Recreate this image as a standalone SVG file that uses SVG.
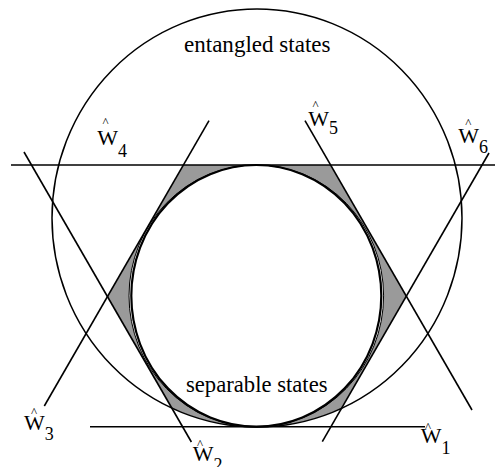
<svg xmlns="http://www.w3.org/2000/svg" width="495" height="467" viewBox="0 0 495 467">
<style>
.ln{stroke:#000;stroke-width:1.6;fill:none;stroke-linecap:butt}
.outer{stroke:#000;stroke-width:1.5;fill:none}
.inner{stroke:#000;stroke-width:2.2;fill:none}
.shade{fill:#9a9a9a;fill-rule:evenodd;stroke:#000;stroke-width:1}
</style>
<defs>
<clipPath id="hexClip"><polygon points="183.4,165 330.6,165 406.3,296.2 331,426.7 182.6,426.7 107.5,296.6"/></clipPath>
<clipPath id="outerClip"><ellipse cx="257" cy="218" rx="205" ry="209"/></clipPath>
</defs>
<rect width="495" height="467" fill="#fff"/>
<g id="shading" clip-path="url(#hexClip)">
<g clip-path="url(#outerClip)">
<path class="shade" d="M0,0 H495 V467 H0 Z M129,295.85 a127.3,130.85 0 1 0 254.6,0 a127.3,130.85 0 1 0 -254.6,0 Z"/>
</g>
</g>
<g id="entangled-states">
<ellipse class="outer" cx="257" cy="218" rx="205" ry="209"/>
<text style="font-family:'Liberation Serif',serif" font-size="24" x="184" y="52.3" textLength="146.5" lengthAdjust="spacingAndGlyphs">entangled states</text>
</g>
<g id="separable-states">
<ellipse class="inner" cx="256.3" cy="295.85" rx="125" ry="130.85"/>
<text style="font-family:'Liberation Serif',serif" font-size="24" x="186" y="391.7" textLength="141.5" lengthAdjust="spacingAndGlyphs">separable states</text>
</g>
<g id="connectors">
<line class="ln" x1="90" y1="426.7" x2="425" y2="426.7"/>
<line class="ln" x1="24" y1="152" x2="191.4" y2="442"/>
<line class="ln" x1="209" y1="120.7" x2="44.3" y2="406"/>
<line class="ln" x1="11" y1="165" x2="495" y2="165"/>
<line class="ln" x1="305" y1="120.7" x2="472" y2="410"/>
<line class="ln" x1="489" y1="153" x2="322.3" y2="441.7"/>
</g>
<g id="labels">
<g id="W1"><text style="font-family:'Liberation Serif',serif" font-size="13" text-anchor="middle" x="428" y="430.6">^</text><text style="font-family:'Liberation Serif',serif" font-size="22" x="420.7" y="443.3">W<tspan font-size="18" dy="11">1</tspan></text></g>
<g id="W2"><text style="font-family:'Liberation Serif',serif" font-size="13" text-anchor="middle" x="200" y="447.9">^</text><text style="font-family:'Liberation Serif',serif" font-size="22" x="192.7" y="460.7">W<tspan font-size="18" dy="10">2</tspan></text></g>
<g id="W3"><text style="font-family:'Liberation Serif',serif" font-size="13" text-anchor="middle" x="34" y="415.6">^</text><text style="font-family:'Liberation Serif',serif" font-size="22" x="24" y="430">W<tspan font-size="18" dy="10">3</tspan></text></g>
<g id="W4"><text style="font-family:'Liberation Serif',serif" font-size="13" text-anchor="middle" x="105.5" y="125.6">^</text><text style="font-family:'Liberation Serif',serif" font-size="22" x="97.3" y="145">W<tspan font-size="18" dy="12">4</tspan></text></g>
<g id="W5"><text style="font-family:'Liberation Serif',serif" font-size="13" text-anchor="middle" x="315.5" y="108.9">^</text><text style="font-family:'Liberation Serif',serif" font-size="22" x="308.3" y="126">W<tspan font-size="18" dy="8">5</tspan></text></g>
<g id="W6"><text style="font-family:'Liberation Serif',serif" font-size="13" text-anchor="middle" x="468.3" y="127.2">^</text><text style="font-family:'Liberation Serif',serif" font-size="22" x="458.3" y="143.3">W<tspan font-size="18" dy="10">6</tspan></text></g>
</g>
</svg>
